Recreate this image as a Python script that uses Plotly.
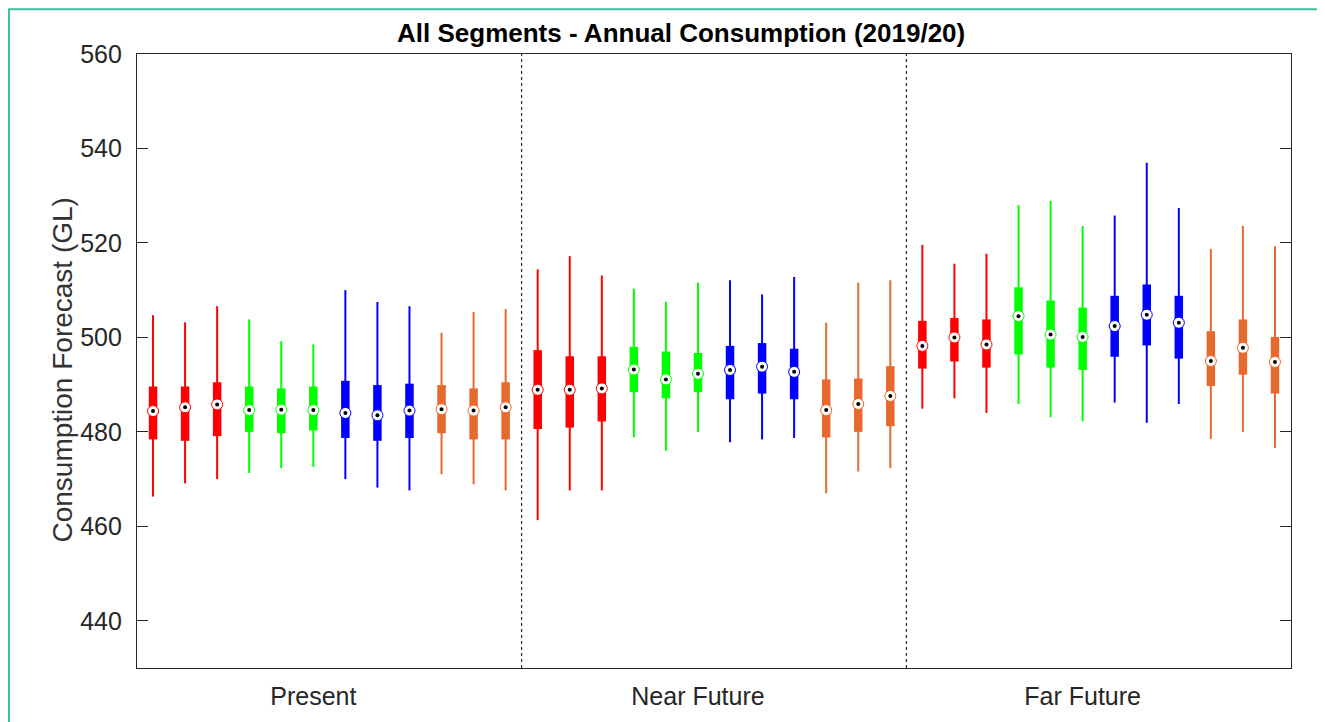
import plotly.graph_objects as go

# ---------------- data ----------------
group_labels = ["Present", "Near Future", "Far Future"]
series_colors = ["#ff0000", "#00ff00", "#0000ff", "#e8692e"]  # 3 boxes per colour per group
boxes_per_colour = 3

whisker_high = [
    504.7, 503.2, 506.6, 503.8, 499.2, 498.5, 510.0, 507.5, 506.6, 501.0, 505.4, 506.0,
    514.4, 517.2, 513.1, 510.3, 507.5, 511.6, 512.1, 509.1, 512.8, 503.1, 511.6, 512.1,
    519.6, 515.6, 517.7, 528.0, 528.9, 523.6, 525.8, 537.0, 527.4, 518.7, 523.6, 519.3,
]
q3 = [
    489.6, 489.6, 490.5, 489.6, 489.2, 489.6, 490.8, 489.9, 490.2, 489.9, 489.2, 490.5,
    497.3, 496.0, 496.0, 498.0, 497.0, 496.7, 498.2, 498.8, 497.6, 491.1, 491.3, 493.9,
    503.5, 504.1, 503.8, 510.6, 507.8, 506.3, 508.8, 511.2, 508.8, 501.3, 503.8, 500.1,
]
median = [
    484.4, 485.2, 485.8, 484.6, 484.7, 484.6, 484.0, 483.5, 484.5, 484.8, 484.5, 485.2,
    488.9, 488.9, 489.2, 493.2, 491.1, 492.3, 493.1, 493.8, 492.7, 484.6, 485.9, 487.6,
    498.2, 500.0, 498.5, 504.5, 500.6, 500.1, 502.4, 504.8, 503.1, 495.0, 497.8, 494.8,
]
q1 = [
    478.4, 478.1, 479.1, 480.0, 479.7, 480.3, 478.7, 478.1, 478.7, 479.7, 478.4, 478.4,
    480.6, 480.9, 482.2, 488.4, 487.1, 488.4, 486.9, 488.1, 486.9, 478.8, 480.0, 481.2,
    493.4, 494.9, 493.6, 496.4, 493.6, 493.1, 495.9, 498.3, 495.5, 489.7, 492.1, 488.1,
]
whisker_low = [
    466.3, 469.1, 470.0, 471.3, 472.3, 472.6, 470.0, 468.2, 467.6, 471.0, 468.9, 467.6,
    461.3, 467.6, 467.6, 478.8, 476.0, 480.0, 477.8, 478.4, 478.7, 467.0, 471.6, 472.3,
    484.9, 487.1, 484.0, 485.9, 483.1, 482.2, 486.2, 481.9, 485.9, 478.5, 480.0, 476.6,
]
y_ticks = [440, 460, 480, 500, 520, 540, 560]

# ---------------- build ----------------
per_group = len(series_colors) * boxes_per_colour
n_groups = len(group_labels)
positions = list(range(1, per_group * n_groups + 1))

fig = go.Figure()

for ci, col in enumerate(series_colors):
    idx = [i for i in range(len(positions))
           if (i % per_group) // boxes_per_colour == ci]
    wx, wy, bx, by = [], [], [], []
    for i in idx:
        wx += [positions[i], positions[i], None]
        wy += [whisker_low[i], whisker_high[i], None]
        bx += [positions[i], positions[i], None]
        by += [q1[i], q3[i], None]
    fig.add_trace(go.Scatter(x=wx, y=wy, mode="lines",
                             line=dict(color=col, width=2), hoverinfo="skip",
                             showlegend=False))
    fig.add_trace(go.Scatter(x=bx, y=by, mode="lines",
                             line=dict(color=col, width=8.5), hoverinfo="skip",
                             showlegend=False))
    fig.add_trace(go.Scatter(x=[positions[i] for i in idx],
                             y=[median[i] for i in idx], mode="markers",
                             marker=dict(symbol="circle", size=11, color="white",
                                         line=dict(color=col, width=1)),
                             showlegend=False))
    fig.add_trace(go.Scatter(x=[positions[i] for i in idx],
                             y=[median[i] for i in idx], mode="markers",
                             marker=dict(symbol="circle", size=4, color="black"),
                             showlegend=False))

# group dividers
for g in range(1, n_groups):
    xd = g * per_group + 0.5
    fig.add_shape(type="line", xref="x", yref="paper", x0=xd, x1=xd, y0=0, y1=1,
                  line=dict(color="black", width=1, dash="dot"))

# teal outer frame
fig.add_shape(type="rect", xref="paper", yref="paper",
              x0=-0.1109, x1=1.026, y0=-0.2, y1=1.0728,
              line=dict(color="#40bfa0", width=2), fillcolor="rgba(0,0,0,0)",
              layer="below")

font_family = "Liberation Sans, Arial, sans-serif"

fig.add_annotation(text="All Segments - Annual Consumption (2019/20)",
                   xref="paper", yref="paper", x=0.4714, y=1.034,
                   xanchor="center", yanchor="middle", showarrow=False,
                   font=dict(family=font_family, size=26, color="black", weight="bold"))
fig.add_annotation(text="Consumption Forecast (GL)", textangle=-90,
                   xref="paper", yref="paper", x=-0.0647, y=0.485,
                   xanchor="center", yanchor="middle", showarrow=False,
                   font=dict(family=font_family, size=28, color="#333333"))

centre_ticks = [g * per_group + per_group / 2 for g in range(n_groups)]

fig.update_layout(
    width=1321, height=714,
    margin=dict(l=129, r=38, t=46, b=50),
    paper_bgcolor="white", plot_bgcolor="white",
    font=dict(family=font_family, color="#262626"),
    xaxis=dict(range=[0.5, per_group * n_groups + 0.5], showgrid=False, zeroline=False,
               showline=True, mirror=True, linecolor="#262626", linewidth=1.3,
               tickmode="array", tickvals=centre_ticks, ticktext=group_labels,
               ticks="", tickfont=dict(size=25, color="#262626"), ticklabelstandoff=6),
    yaxis=dict(range=[430, 560], showgrid=False, zeroline=False,
               showline=True, mirror="ticks", linecolor="#262626", linewidth=1.3,
               tickmode="array", tickvals=y_ticks, ticks="inside", ticklen=11,
               tickwidth=1.3, tickcolor="#262626",
               tickfont=dict(size=25, color="#262626"), ticklabelstandoff=9),
)

fig.write_html("out.html")
